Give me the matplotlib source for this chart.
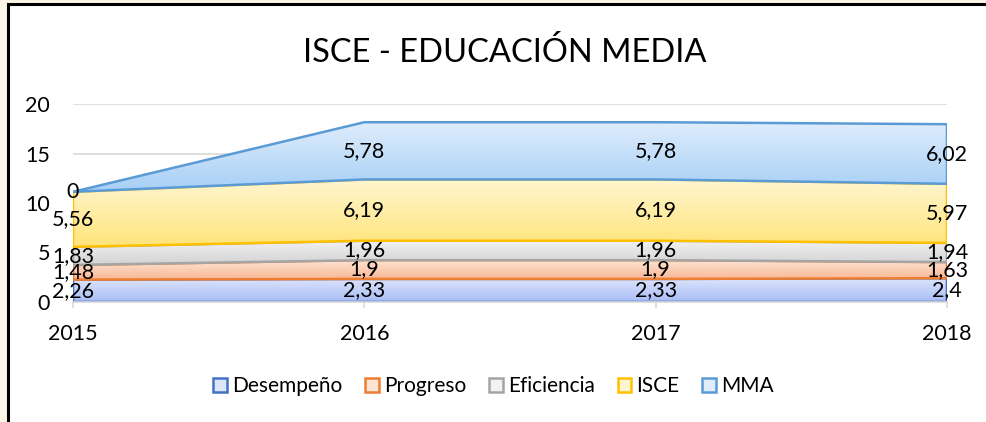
import numpy as np
import matplotlib.pyplot as plt
from matplotlib.patches import Rectangle, Patch
from matplotlib.colors import LinearSegmentedColormap

plt.rcParams['font.family'] = ['Lato', 'DejaVu Sans']

years = [2015, 2016, 2017, 2018]
series = ['Desempeño', 'Progreso', 'Eficiencia', 'ISCE', 'MMA']
desempeno = [2.26, 2.33, 2.33, 2.4]
progreso = [1.48, 1.9, 1.9, 1.63]
eficiencia = [1.83, 1.96, 1.96, 1.94]
isce = [5.56, 6.19, 6.19, 5.97]
mma = [0, 5.78, 5.78, 6.02]
labels = [['2,26', '2,33', '2,33', '2,4'],
          ['1,48', '1,9', '1,9', '1,63'],
          ['1,83', '1,96', '1,96', '1,94'],
          ['5,56', '6,19', '6,19', '5,97'],
          ['0', '5,78', '5,78', '6,02']]

edges = ['#4472c4', '#ed7d31', '#a5a5a5', '#ffc000', '#5b9bd5']
tops = ['#dde5fb', '#fde3d4', '#f2f2f2', '#fff6d0', '#dfedfc']
bottoms = ['#a8bcf6', '#f9b692', '#d2d2d2', '#ffe47a', '#a6cff6']

fig = plt.figure(figsize=(9.87, 4.22), dpi=100, facecolor='#fdf5e6')
fig.patches.append(Rectangle((8 / 987, -0.05), 1.1, 1 - 4 / 422 + 0.05,
                             transform=fig.transFigure, facecolor='white',
                             edgecolor='black', linewidth=2.2, zorder=-5))

ax = fig.add_axes([73 / 987, 120 / 422, 874 / 987, 198 / 422])
ax.set_facecolor('none')

x = np.array(years, dtype=float)
base = np.zeros(4)
vals = [desempeno, progreso, eficiencia, isce, mma]
for i, v in enumerate(vals):
    v = np.array(v)
    top = base + v
    poly = ax.fill_between(x, base, top, facecolor='none', edgecolor='none', zorder=2 + i)
    cmap = LinearSegmentedColormap.from_list('g', [bottoms[i], tops[i]])
    grad = np.linspace(0, 1, 256).reshape(-1, 1)
    lo, hi = base.min(), top.max()
    im = ax.imshow(grad, cmap=cmap, aspect='auto', origin='lower',
                   extent=[x[0], x[-1], lo, hi], zorder=2 + i)
    path = poly.get_paths()[0]
    im.set_clip_path(path, transform=ax.transData)
    ax.fill_between(x, base, top, facecolor='none', edgecolor=edges[i],
                    linewidth=1.8, zorder=2.5 + i)
    for j in range(4):
        ax.text(x[j], base[j] + v[j] / 2, labels[i][j], ha='center', va='center',
                fontsize=15.5, color='black', zorder=20)
    base = top

ax.set_xlim(2015, 2018)
ax.set_ylim(0, 20)
ax.set_yticks([0, 5, 10, 15, 20])
ax.set_xticks(years)
ax.set_xticklabels([str(y) for y in years])
ax.grid(axis='y', color='#d9d9d9', linewidth=1.2, zorder=0)
ax.set_axisbelow(True)
for s in ['top', 'right', 'left']:
    ax.spines[s].set_visible(False)
ax.spines['bottom'].set_color('#d9d9d9')
ax.spines['bottom'].set_linewidth(1.2)
ax.tick_params(axis='y', length=0, pad=16.5, labelsize=15.5)
ax.tick_params(axis='x', length=4, color='#d9d9d9', width=1.2, pad=12, labelsize=15.5)

fig.text(0.511, 1 - 52 / 422, 'ISCE - EDUCACIÓN MEDIA', ha='center', va='center', fontsize=23.5)

handles = [Patch(facecolor=tops[i], edgecolor=edges[i], linewidth=1.8, label=series[i])
           for i in range(5)]
fig.legend(handles=handles, loc='center', bbox_to_anchor=(0.5, 1 - 386 / 422), ncol=5,
           frameon=False, fontsize=15, handlelength=0.65, handleheight=0.65,
           handletextpad=0.25, columnspacing=1.1)

fig.savefig('out.png', dpi=100, facecolor=fig.get_facecolor())
